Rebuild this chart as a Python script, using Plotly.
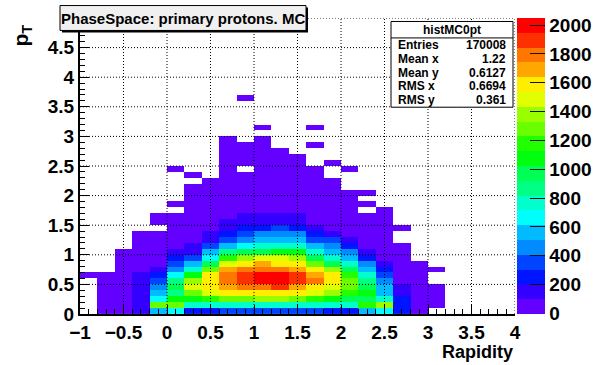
import plotly.graph_objects as go

# ---------------- data ----------------
x_edges = [-1.0, -0.8, -0.6, -0.4, -0.2, 0.0, 0.2, 0.4, 0.6, 0.8, 1.0, 1.2, 1.4,
           1.6, 1.8, 2.0, 2.2, 2.4, 2.6, 2.8, 3.0, 3.2, 3.4, 3.6, 3.8, 4.0]
y_edges = [0.0, 0.1, 0.2, 0.3, 0.4, 0.5, 0.6, 0.7, 0.8, 0.9,
           1.0, 1.1, 1.2, 1.3, 1.4, 1.5, 1.6, 1.7, 1.8, 1.9,
           2.0, 2.1, 2.2, 2.3, 2.4, 2.5, 2.6, 2.7, 2.8, 2.9,
           3.0, 3.1, 3.2, 3.3, 3.4, 3.5, 3.6, 3.7, 3.8, 3.9,
           4.0, 4.1, 4.2, 4.3, 4.4, 4.5, 4.6, 4.7, 4.8, 4.9, 5.0]

Z = [0, 0, 0, 0]
# counts[row pT bin][column rapidity bin]
counts = [
    [0, 12, 28, 160, 570, 690, 270, 280, 350, 370, 380, 375, 360, 340, 290, 250, 560, 700, 240, 60, 0] + Z,
    [0, 18, 35, 170, 1300, 1280, 780, 790, 760, 800, 810, 790, 780, 770, 760, 750, 1180, 1400, 250, 55, 20] + Z,
    [0, 20, 40, 180, 680, 1050, 1090, 1190, 1280, 1300, 1380, 1370, 1270, 1170, 1060, 990, 960, 780, 270, 65, 25] + Z,
    [0, 22, 45, 175, 560, 880, 1300, 1480, 1590, 1600, 1610, 1590, 1580, 1490, 1380, 1170, 1070, 570, 170, 70, 30] + Z,
    [0, 20, 42, 165, 470, 980, 1480, 1600, 1700, 1790, 1800, 1890, 1690, 1600, 1500, 1280, 960, 560, 150, 60, 25] + Z,
    [0, 18, 38, 160, 360, 880, 1390, 1600, 1800, 1900, 2030, 2052, 1900, 1790, 1590, 1290, 870, 470, 80, 50, 0] + Z,
    [8, 15, 35, 150, 270, 680, 1080, 1590, 1780, 1890, 2000, 1990, 1880, 1690, 1590, 1200, 760, 360, 70, 40, 0] + Z,
    [0, 0, 30, 60, 160, 470, 770, 1280, 1700, 1790, 1800, 1780, 1700, 1590, 1390, 960, 560, 260, 60, 35, 5] + Z,
    [0, 0, 25, 50, 80, 360, 560, 980, 1490, 1590, 1690, 1610, 1600, 1280, 970, 780, 470, 150, 50, 25, 0] + Z,
    [0, 0, 22, 45, 60, 260, 360, 680, 1190, 1380, 1480, 1500, 1390, 970, 770, 560, 260, 90, 40, 0, 0] + Z,
    [0, 0, 15, 35, 50, 150, 160, 560, 870, 970, 990, 1080, 1060, 770, 560, 470, 150, 70, 30, 0, 0] + Z,
    [0, 0, 0, 30, 45, 85, 140, 360, 570, 680, 780, 770, 760, 570, 460, 260, 95, 55, 25, 0, 0] + Z,
    [0, 0, 0, 25, 35, 70, 90, 150, 370, 470, 560, 580, 550, 360, 350, 150, 70, 45, 0, 0, 0] + Z,
    [0, 0, 0, 20, 30, 60, 80, 140, 260, 350, 460, 470, 450, 260, 150, 90, 60, 35, 0, 0, 0] + Z,
    [0, 0, 0, 0, 0, 50, 70, 95, 150, 250, 270, 360, 260, 160, 95, 70, 50, 30, 8, 0, 0] + Z,
    [0, 0, 0, 0, 15, 40, 60, 85, 140, 150, 170, 160, 150, 95, 80, 60, 40, 25, 0, 0, 0] + Z,
    [0, 0, 0, 0, 10, 35, 50, 75, 95, 130, 140, 135, 120, 85, 70, 50, 35, 20, 0, 0, 0] + Z,
    [0, 0, 0, 0, 0, 0, 40, 60, 80, 90, 95, 90, 85, 70, 55, 40, 0, 15, 0, 0, 0] + Z,
    [0, 0, 0, 0, 0, 2, 35, 50, 65, 75, 80, 75, 70, 60, 45, 30, 10, 0, 0, 0, 0] + Z,
    [0, 0, 0, 0, 0, 0, 25, 40, 55, 60, 65, 60, 55, 50, 35, 25, 0, 0, 0, 0, 0] + Z,
    [0, 0, 0, 0, 0, 0, 20, 35, 45, 50, 55, 50, 45, 40, 25, 15, 6, 0, 0, 0, 0] + Z,
    [0, 0, 0, 0, 0, 0, 15, 25, 35, 40, 45, 40, 38, 30, 18, 0, 0, 0, 0, 0, 0] + Z,
    [0, 0, 0, 0, 0, 0, 0, 20, 30, 32, 35, 30, 28, 22, 10, 0, 0, 0, 0, 0, 0] + Z,
    [0, 0, 0, 0, 0, 0, 2, 0, 25, 25, 28, 25, 22, 15, 0, 0, 0, 0, 0, 0, 0] + Z,
    [0, 0, 0, 0, 0, 1, 0, 0, 20, 0, 22, 20, 18, 10, 0, 1, 0, 0, 0, 0, 0] + Z,
    [0, 0, 0, 0, 0, 0, 0, 0, 15, 16, 18, 15, 12, 0, 2, 0, 0, 0, 0, 0, 0] + Z,
    [0, 0, 0, 0, 0, 0, 0, 0, 12, 12, 14, 10, 8, 0, 0, 0, 0, 0, 0, 0, 0] + Z,
    [0, 0, 0, 0, 0, 0, 0, 0, 8, 9, 10, 6, 0, 0, 0, 0, 0, 0, 0, 0, 0] + Z,
    [0, 0, 0, 0, 0, 0, 0, 0, 6, 5, 7, 0, 0, 1, 0, 0, 0, 0, 0, 0, 0] + Z,
    [0, 0, 0, 0, 0, 0, 0, 0, 3, 0, 4, 0, 0, 0, 0, 0, 0, 0, 0, 0, 0] + Z,
    [0] * 25,
    [0, 0, 0, 0, 0, 0, 0, 0, 0, 0, 1, 0, 0, 1, 0, 0, 0, 0, 0, 0, 0] + Z,
    [0] * 25, [0] * 25, [0] * 25, [0] * 25,
    [0, 0, 0, 0, 0, 0, 0, 0, 0, 1, 0, 0, 0, 0, 0, 0, 0, 0, 0, 0, 0] + Z,
    [0] * 25, [0] * 25, [0] * 25, [0] * 25, [0] * 25, [0] * 25, [0] * 25,
    [0] * 25, [0] * 25, [0] * 25, [0] * 25, [0] * 25,
]

x_ticks = [-1, -0.5, 0, 0.5, 1, 1.5, 2, 2.5, 3, 3.5, 4]
x_ticktext = ["\u22121", "\u22120.5", "0", "0.5", "1", "1.5", "2", "2.5", "3", "3.5", "4"]
y_ticks = [0, 0.5, 1, 1.5, 2, 2.5, 3, 3.5, 4, 4.5]
y_ticktext = ["0", "0.5", "1", "1.5", "2", "2.5", "3", "3.5", "4", "4.5"]
grid_x = [-0.5, 0, 0.5, 1, 1.5, 2, 2.5, 3, 3.5, 4]
grid_y = [0.5, 1, 1.5, 2, 2.5, 3, 3.5, 4, 4.5, 5]
cbar_ticks = [0, 200, 400, 600, 800, 1000, 1200, 1400, 1600, 1800, 2000]

stats_name = "histMC0pt"
stats_labels = ["Entries", "Mean x", "Mean y", "RMS x", "RMS y"]
stats_values = ["170008", "1.22", "0.6127", "0.6694", "0.361"]
title_text = "PhaseSpace: primary protons. MC"

# ROOT "pretty" palette sampled at 20 contour levels
palette = ["#6300ff", "#3300ff", "#0014ff", "#0044ff", "#008bff", "#00bbff",
           "#00fffc", "#00ffcc", "#00ff85", "#00ff55", "#00ff0e", "#22ff00",
           "#69ff00", "#99ff00", "#e0ff00", "#ffee00", "#ffa700", "#ff7700",
           "#ff3000", "#ff0000"]

# ---------------- figure ----------------
n = len(palette)
colorscale = []
for k, c in enumerate(palette):
    colorscale.append([k / n, c])
    colorscale.append([(k + 1) / n, c])

z = [[v if v > 0 else None for v in row] for row in counts]
zmax = max(max(r) for r in counts)

FONT = "Liberation Sans"

# pixel geometry of the frame
L, R, T, B = 80.0, 515.0, 17.5, 314.5
W, H = 606, 365


def px(x):
    return (x - L) / (R - L)


def py(y):
    return (B - y) / (B - T)


fig = go.Figure()
fig.add_trace(go.Heatmap(
    x=x_edges, y=y_edges, z=z,
    zmin=0, zmax=zmax,
    colorscale=colorscale,
    hoverongaps=False,
    colorbar=dict(
        x=px(517), xanchor="left", xpad=0,
        y=py(314), yanchor="bottom", len=(314 - 17) / (B - T), lenmode="fraction",
        ypad=0,
        thickness=28, thicknessmode="pixels",
        outlinewidth=0,
        tickmode="array", tickvals=cbar_ticks,
        ticks="inside", ticklen=15, tickwidth=1.3, tickcolor="#111",
        tickfont=dict(family=FONT, size=19, color="black", weight="bold"),
    ),
))

shapes = []
# dotted grid drawn above the cells (as in ROOT)
for xv in grid_x:
    shapes.append(dict(type="line", xref="x", yref="y", x0=xv, x1=xv, y0=0, y1=5,
                       line=dict(color="black", width=1, dash="1px,2px"), layer="above"))
for yv in grid_y:
    shapes.append(dict(type="line", xref="x", yref="y", x0=-1, x1=4, y0=yv, y1=yv,
                       line=dict(color="black", width=1, dash="1px,2px"), layer="above"))

# title box with shadow
tb = (60, 5, 306, 30)
shapes.append(dict(type="rect", xref="paper", yref="paper",
                   x0=px(tb[0] + 2), x1=px(tb[2] + 2), y0=py(tb[3] + 2), y1=py(tb[1] + 2),
                   fillcolor="black", line=dict(width=0), layer="above"))
shapes.append(dict(type="rect", xref="paper", yref="paper",
                   x0=px(tb[0]), x1=px(tb[2]), y0=py(tb[3]), y1=py(tb[1]),
                   fillcolor="#f0f0f0", line=dict(color="black", width=1), layer="above"))

# stats box
sb = (391, 21, 513, 107)
shapes.append(dict(type="rect", xref="paper", yref="paper",
                   x0=px(sb[0]), x1=px(sb[2]), y0=py(sb[3]), y1=py(sb[1]),
                   fillcolor="white", line=dict(color="black", width=1), layer="above"))
shapes.append(dict(type="line", xref="paper", yref="paper",
                   x0=px(sb[0]), x1=px(sb[2]), y0=py(37.5), y1=py(37.5),
                   line=dict(color="black", width=1), layer="above"))

annotations = []
annotations.append(dict(xref="paper", yref="paper", x=px((tb[0] + tb[2]) / 2), y=py(17.8),
                        text=title_text, showarrow=False, xanchor="center", yanchor="middle",
                        font=dict(family=FONT, size=15, color="black", weight="bold")))
annotations.append(dict(xref="paper", yref="paper", x=px((sb[0] + sb[2]) / 2), y=py(29.5),
                        text=stats_name, showarrow=False, xanchor="center", yanchor="middle",
                        font=dict(family=FONT, size=12, color="black", weight="bold")))
row_y = [44.6, 58.4, 72.2, 86.0, 99.8]
for lab, val, yy in zip(stats_labels, stats_values, row_y):
    annotations.append(dict(xref="paper", yref="paper", x=px(396), y=py(yy), text=lab,
                            showarrow=False, xanchor="left", yanchor="middle",
                            font=dict(family=FONT, size=12, color="black", weight="bold")))
    annotations.append(dict(xref="paper", yref="paper", x=px(508), y=py(yy), text=val,
                            showarrow=False, xanchor="right", yanchor="middle",
                            font=dict(family=FONT, size=12, color="black", weight="bold")))

annotations.append(dict(xref="paper", yref="paper", x=px(515), y=py(353), text="Rapidity",
                        showarrow=False, xanchor="right", yanchor="middle",
                        font=dict(family=FONT, size=18, color="black", weight="bold")))
annotations.append(dict(xref="paper", yref="paper", x=px(22), y=py(22), text="p<sub>T</sub>",
                        showarrow=False, xanchor="center", yanchor="top", textangle=-90,
                        font=dict(family=FONT, size=21, color="black", weight="bold")))

fig.update_layout(
    width=W, height=H,
    margin=dict(l=L, r=W - R, t=T, b=H - B, pad=0, autoexpand=False),
    paper_bgcolor="white", plot_bgcolor="white",
    showlegend=False,
    shapes=shapes, annotations=annotations,
    xaxis=dict(range=[-1, 4], tickmode="array", tickvals=x_ticks, ticktext=x_ticktext,
               ticks="inside", ticklen=9, tickwidth=1, tickcolor="black",
               showline=True, linecolor="black", linewidth=2,
               showgrid=False, zeroline=False, layer="above traces",
               tickfont=dict(family=FONT, size=19, color="black", weight="bold"),
               minor=dict(ticks="inside", dtick=0.1, tick0=0, ticklen=5, tickcolor="black",
                          tickwidth=1, showgrid=False)),
    yaxis=dict(range=[0, 5], tickmode="array", tickvals=y_ticks, ticktext=y_ticktext,
               ticks="inside", ticklen=9, tickwidth=1, tickcolor="black",
               showline=True, linecolor="black", linewidth=2,
               showgrid=False, zeroline=False, layer="above traces",
               tickfont=dict(family=FONT, size=19, color="black", weight="bold"),
               minor=dict(ticks="inside", dtick=0.1, tick0=0, ticklen=5, tickcolor="black",
                          tickwidth=1, showgrid=False)),
)

fig.write_html("out.html")
